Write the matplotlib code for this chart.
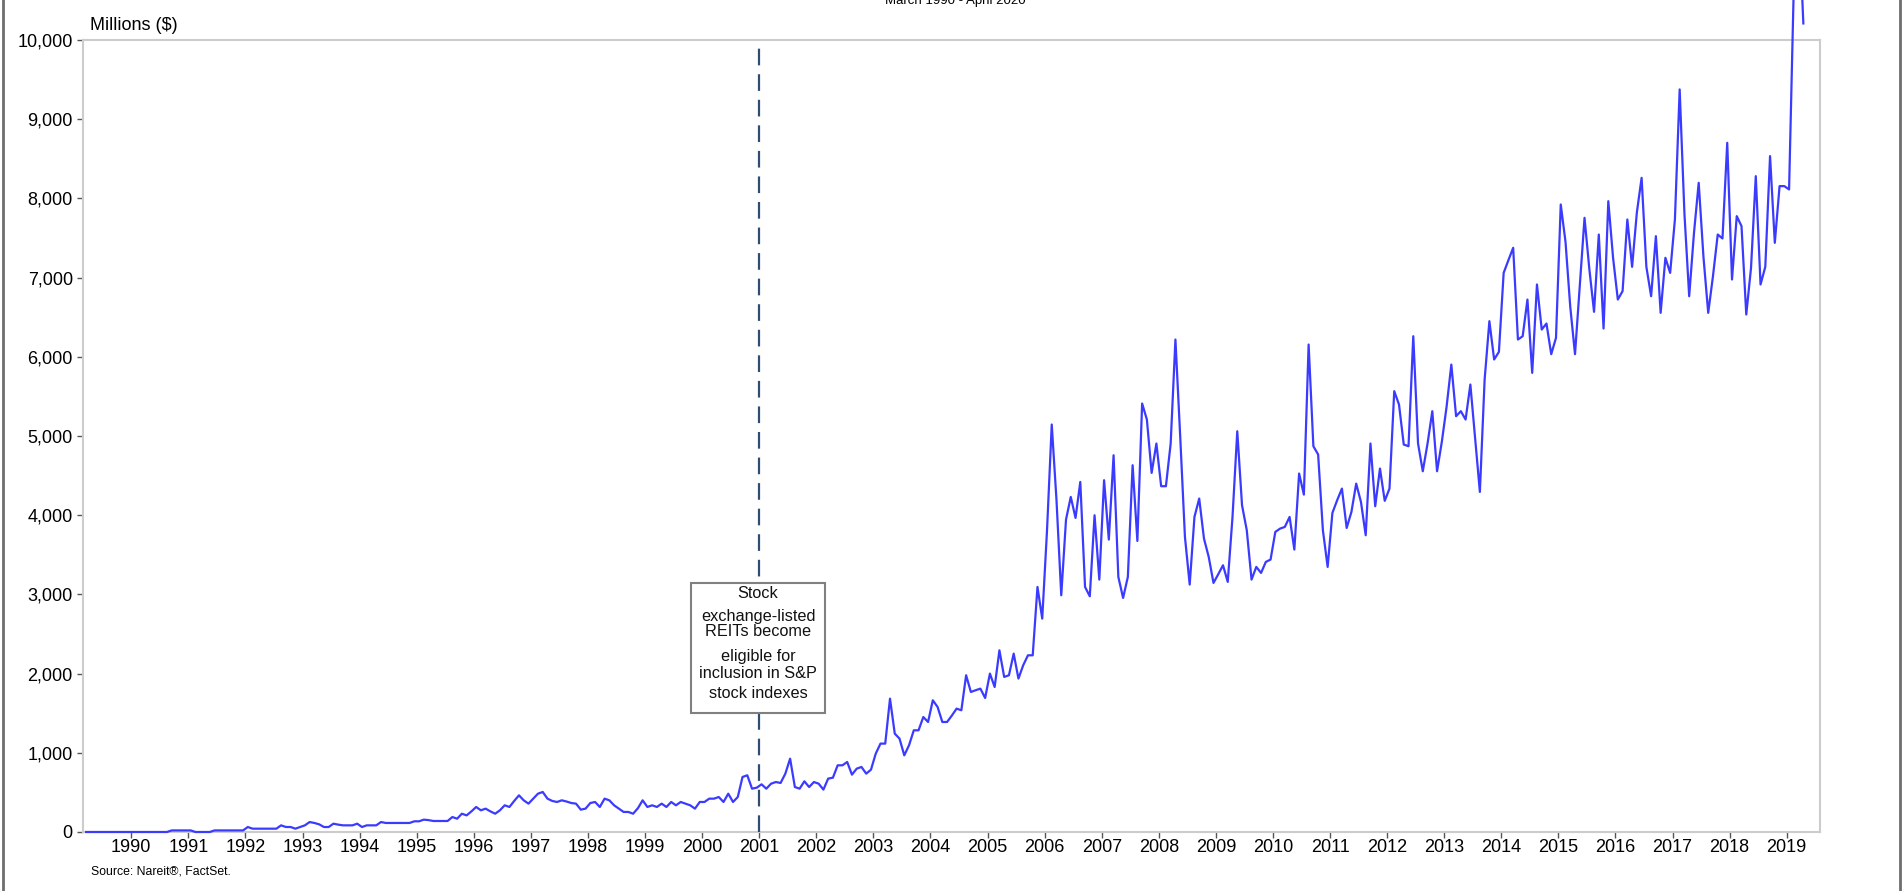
import matplotlib
matplotlib.use('Agg')
from matplotlib import pyplot as plt
from matplotlib.patches import Rectangle
from matplotlib.lines import Line2D
import numpy as np

plt.rcParams['font.family'] = ['Liberation Sans', 'DejaVu Sans']

# Monthly REIT trading volume, millions of dollars, March 1990 - April 2020
vol_1990 = [0, 0, 0, 0, 0, 0, 0, 0, 0, 0]  # Mar-Dec
vol_1991 = [0, 0, 0, 0, 0, 0, 0, 0, 20, 20, 20, 20]
vol_1992 = [20, 0, 0, 0, 0, 20, 20, 20, 20, 20, 20, 20]
vol_1993 = [63, 42, 42, 42, 42, 42, 42, 84, 63, 63, 42, 63]
vol_1994 = [84, 126, 114, 97, 63, 63, 105, 93, 84, 84, 84, 105]
vol_1995 = [63, 84, 84, 84, 126, 114, 114, 114, 114, 114, 114, 135]
vol_1996 = [135, 156, 150, 139, 139, 139, 139, 189, 168, 231, 210, 260]
vol_1997 = [316, 274, 295, 260, 231, 274, 337, 316, 392, 463, 400, 358]
vol_1998 = [421, 484, 505, 421, 392, 379, 400, 385, 366, 358, 282, 295]
vol_1999 = [366, 379, 316, 421, 400, 337, 295, 253, 253, 231, 300, 400]
vol_2000 = [316, 337, 316, 358, 316, 379, 337, 379, 358, 337, 295, 379]
vol_2001 = [379, 421, 421, 442, 379, 484, 379, 442, 695, 716, 547, 560]
vol_2002 = [602, 547, 610, 631, 619, 737, 926, 568, 547, 640, 568, 631]
vol_2003 = [610, 535, 674, 686, 842, 842, 884, 724, 800, 821, 737, 787]
vol_2004 = [989, 1116, 1116, 1684, 1242, 1179, 968, 1095, 1284, 1284, 1452, 1389]
vol_2005 = [1663, 1579, 1389, 1389, 1470, 1558, 1537, 1979, 1768, 1790, 1810, 1692]
vol_2006 = [2000, 1831, 2294, 1958, 1979, 2252, 1937, 2105, 2231, 2231, 3094, 2694]
vol_2007 = [3800, 5145, 4189, 2989, 3945, 4231, 3966, 4420, 3094, 2976, 3999, 3187]
vol_2008 = [4442, 3692, 4757, 3221, 2955, 3221, 4631, 3675, 5410, 5208, 4534, 4905]
vol_2009 = [4366, 4366, 4905, 6218, 5000, 3726, 3124, 3978, 4210, 3705, 3473, 3145]
vol_2010 = [3254, 3368, 3158, 3978, 5060, 4126, 3810, 3187, 3347, 3271, 3410, 3440]
vol_2011 = [3789, 3831, 3852, 3978, 3566, 4526, 4260, 6155, 4871, 4766, 3810, 3347]
vol_2012 = [4029, 4189, 4336, 3839, 4042, 4399, 4168, 3747, 4905, 4113, 4589, 4181]
vol_2013 = [4336, 5566, 5397, 4892, 4871, 6260, 4905, 4555, 4905, 5313, 4555, 4926]
vol_2014 = [5368, 5902, 5250, 5313, 5208, 5650, 4968, 4294, 5713, 6450, 5966, 6062]
vol_2015 = [7060, 7220, 7376, 6218, 6260, 6723, 5797, 6913, 6344, 6420, 6033, 6239]
vol_2016 = [7923, 7452, 6631, 6033, 6900, 7755, 7115, 6568, 7544, 6357, 7965, 7250]
vol_2017 = [6723, 6829, 7734, 7136, 7822, 8260, 7136, 6765, 7523, 6555, 7250, 7060]
vol_2018 = [7734, 9376, 7810, 6765, 7557, 8197, 7262, 6555, 7018, 7544, 7494, 8702]
vol_2019 = [6976, 7776, 7650, 6534, 7123, 8281, 6913, 7136, 8534, 7439, 8155, 8155]
vol_2020 = [8113, 10700, 11600, 10209]  # Jan-Apr

volume = (vol_1990 + vol_1991 + vol_1992 + vol_1993 + vol_1994 + vol_1995 +
          vol_1996 + vol_1997 + vol_1998 + vol_1999 + vol_2000 + vol_2001 +
          vol_2002 + vol_2003 + vol_2004 + vol_2005 + vol_2006 + vol_2007 +
          vol_2008 + vol_2009 + vol_2010 + vol_2011 + vol_2012 + vol_2013 +
          vol_2014 + vol_2015 + vol_2016 + vol_2017 + vol_2018 + vol_2019 +
          vol_2020)

year_labels = [str(y) for y in range(1990, 2020)]
y_ticks = [0, 1000, 2000, 3000, 4000, 5000, 6000, 7000, 8000, 9000, 10000]
y_labels = ['0', '1,000', '2,000', '3,000', '4,000', '5,000', '6,000',
            '7,000', '8,000', '9,000', '10,000']
event_year = '2001'

W, H = 1902, 891
fig = plt.figure(figsize=(W / 100, H / 100), dpi=100)
ax = fig.add_axes([82.5 / W, 1 - 832 / H, (1820 - 82.5) / W, (832 - 40) / H])

months = np.arange(len(volume))
ax.plot(months, volume, color='#3b3bff', lw=1.6, clip_on=False, zorder=5)

# ticks sit on year boundaries (end of labelled year)
year_ticks = [(int(y) + 1 - 1990) * 12 - 2 - 0.5 for y in year_labels]
ax.set_xticks(year_ticks)
ax.set_xticklabels(year_labels)
ax.set_yticks(y_ticks)
ax.set_yticklabels(y_labels)
ax.set_xlim(-0.75, 364.5)
ax.set_ylim(0, 10000)

for s in ax.spines.values():
    s.set_color('#cccccc')
    s.set_linewidth(1.5)
ax.tick_params(axis='both', length=4, width=1, color='#555555', labelsize=13)
ax.tick_params(axis='x', pad=1)
ax.tick_params(axis='y', pad=3)

ev_x = year_ticks[year_labels.index(event_year)]
ax.axvline(ev_x, color='#2e4d70', lw=1.6, dashes=(7.5, 4), zorder=3)

# annotation box
fig.add_artist(Rectangle((691 / W, 1 - 713 / H), 134 / W, 130 / H,
                         transform=fig.transFigure, facecolor='white',
                         edgecolor='#808080', lw=1.5, zorder=10))
box_lines = [('Stock', 594), ('exchange-listed', 617), ('REITs become', 632),
             ('eligible for', 657), ('inclusion in S&P', 673),
             ('stock indexes', 693)]
for txt, yp in box_lines:
    fig.text(758 / W, 1 - yp / H, txt, ha='center', va='center',
             fontsize=11.7, color='#111111', zorder=11)

fig.text(90 / W, 1 - 30 / H, 'Millions ($)', fontsize=13, va='baseline')
fig.text(955 / W, 1 - 4 / H, 'March 1990 - April 2020', fontsize=9.5,
         ha='center', va='baseline')
fig.text(91 / W, 1 - 871 / H, 'Source: Nareit®, FactSet.', fontsize=8.8,
         va='center')

# outer frame edges
fig.add_artist(Line2D([3 / W, 3 / W], [0, 1], color='#6e6e6e', lw=2))
fig.add_artist(Line2D([1900 / W, 1900 / W], [0, 1], color='#6e6e6e', lw=2))

fig.savefig('out.png', dpi=100)
